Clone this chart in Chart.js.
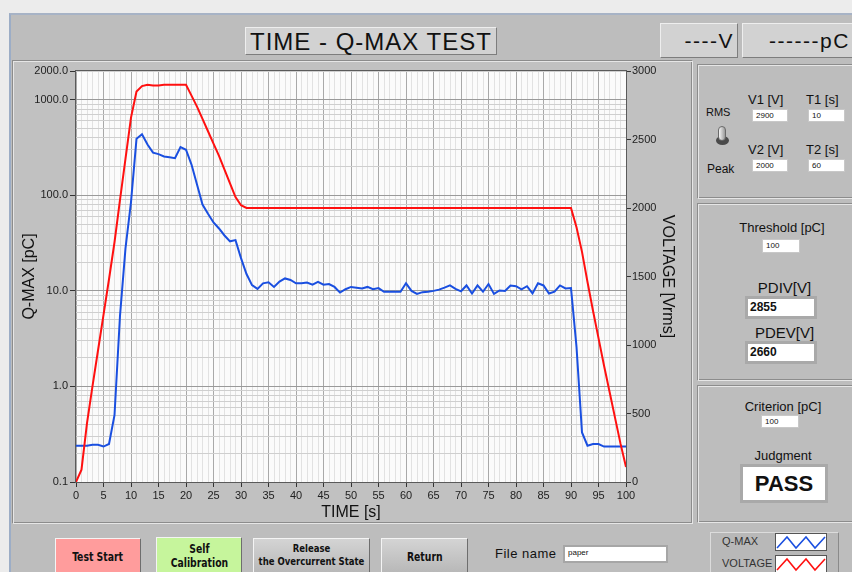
<!DOCTYPE html>
<html>
<head>
<meta charset="utf-8">
<title>TIME - Q-MAX TEST</title>
<script src="https://cdn.jsdelivr.net/npm/chart.js@4.4.0/dist/chart.umd.min.js"></script>
<style>
  html, body { margin: 0; padding: 0; }
  body {
    width: 852px; height: 572px; overflow: hidden; position: relative;
    background: #ececec; font-family: "Liberation Sans", Arial, sans-serif; color: #111;
  }
  .abs { position: absolute; box-sizing: border-box; }
  #panel { left: 9px; top: 13px; width: 843px; height: 559px; background: #bdbdbd;
    border-top: 2px solid #a7b3c6; border-left: 2px solid #9cadc6; }
  .raised { background: #d2d2d2; border: 1px solid; border-color: #eeeeee #7d7d7d #7d7d7d #eeeeee; }
  .frame { border: 1px solid; border-color: #8c8c8c #e6e6e6 #e6e6e6 #8c8c8c;
    box-shadow: inset 1px 1px 0 #e6e6e6, inset -1px -1px 0 #8c8c8c; }
  .lbl { white-space: nowrap; text-align: center; }
  .box { background: #fff; border: 1px solid #c8c8c8; font-size: 8px; line-height: 11px; padding-left: 3px; }
  .bigbox { background: #fff; border: 3px solid #a9a9a9; font-weight: bold; font-size: 12px; line-height: 16px; padding-left: 2px; }
  .btn { border: 1px solid; border-color: #f4f4f4 #6e6e6e #6e6e6e #f4f4f4; text-align: center;
    font-family: "Liberation Sans Narrow", "DejaVu Sans Condensed", "Liberation Sans", sans-serif; font-weight: bold; font-size: 12px;
    display: flex; align-items: flex-start; justify-content: center; line-height: 14px; padding-top: 4px; white-space: nowrap; }
  .btn span { display: inline-block; transform: scaleX(0.86); }
  #chartWrap { left: 15px; top: 62px; width: 675px; height: 460px; }
</style>
</head>
<body>
<div class="abs" id="panel"></div>

<div class="abs raised" style="left:245px;top:27px;width:252px;height:28px;font-size:24px;line-height:27px;padding-left:4px;letter-spacing:1px;">TIME - Q-MAX TEST</div>
<div class="abs raised" style="left:660px;top:23px;width:78px;height:35px;font-size:21px;line-height:33px;text-align:right;padding-right:3px;letter-spacing:1.5px;">----V</div>
<div class="abs raised" style="left:742px;top:23px;width:120px;height:35px;font-size:21px;line-height:33px;padding-left:26px;letter-spacing:1.5px;">------pC</div>

<div class="abs frame" style="left:12px;top:60px;width:681px;height:464px;background:#c1c1c1;"></div>
<div class="abs" id="chartWrap"><canvas id="qmaxChart"></canvas></div>

<div class="abs frame" style="left:697px;top:64px;width:160px;height:135px;"></div>
<div class="abs lbl" style="left:706px;top:106px;font-size:11px;">RMS</div>
<div class="abs" style="left:716px;top:136px;width:13px;height:9px;border-radius:50%;background:#4a4a4a;"></div>
<div class="abs" style="left:718px;top:126px;width:8px;height:15px;border-radius:4px;background:linear-gradient(90deg,#f4f4f4,#9a9a9a);border:1px solid #6a6a6a;"></div>
<div class="abs lbl" style="left:707px;top:162px;font-size:12px;">Peak</div>
<div class="abs lbl" style="left:748px;top:92px;font-size:13px;">V1 [V]</div>
<div class="abs lbl" style="left:806px;top:92px;font-size:13px;">T1 [s]</div>
<div class="abs box" style="left:752px;top:109px;width:36px;height:13px;">2900</div>
<div class="abs box" style="left:808px;top:109px;width:37px;height:13px;">10</div>
<div class="abs lbl" style="left:748px;top:142px;font-size:13px;">V2 [V]</div>
<div class="abs lbl" style="left:806px;top:142px;font-size:13px;">T2 [s]</div>
<div class="abs box" style="left:752px;top:159px;width:36px;height:13px;">2000</div>
<div class="abs box" style="left:808px;top:159px;width:37px;height:13px;">60</div>

<div class="abs frame" style="left:697px;top:203px;width:160px;height:178px;"></div>
<div class="abs lbl" style="left:697px;top:220px;width:170px;font-size:13px;">Threshold [pC]</div>
<div class="abs box" style="left:762px;top:239px;width:38px;height:14px;">100</div>
<div class="abs lbl" style="left:697px;top:279px;width:175px;font-size:15px;">PDIV[V]</div>
<div class="abs bigbox" style="left:745px;top:296px;width:72px;height:23px;">2855</div>
<div class="abs lbl" style="left:697px;top:324px;width:175px;font-size:15px;">PDEV[V]</div>
<div class="abs bigbox" style="left:745px;top:341px;width:72px;height:23px;">2660</div>

<div class="abs frame" style="left:697px;top:385px;width:160px;height:138px;"></div>
<div class="abs lbl" style="left:697px;top:399px;width:172px;font-size:13px;">Criterion [pC]</div>
<div class="abs box" style="left:761px;top:415px;width:38px;height:13px;">100</div>
<div class="abs lbl" style="left:697px;top:448px;width:172px;font-size:13px;">Judgment</div>
<div class="abs bigbox" style="left:740px;top:464px;width:88px;height:39px;font-size:22px;line-height:33px;text-align:center;padding:0;">PASS</div>

<div class="abs" style="left:710px;top:532px;width:129px;height:45px;background:#b8b8b8;border:1px solid;border-color:#dcdcdc #8a8a8a #8a8a8a #dcdcdc;"></div>
<div class="abs" style="left:722px;top:535px;font-size:11px;color:#333;">Q-MAX</div>
<div class="abs" style="left:722px;top:557px;font-size:11px;color:#333;">VOLTAGE</div>
<svg class="abs" style="left:775px;top:533px;" width="52" height="18">
  <rect x="0.5" y="0.5" width="51" height="17" fill="#fff" stroke="#555"/>
  <polyline points="2,15 12,4 21,15 31,4 40,15 50,4" fill="none" stroke="#1a4fe0" stroke-width="1.6"/>
</svg>
<svg class="abs" style="left:775px;top:555px;" width="52" height="18">
  <rect x="0.5" y="0.5" width="51" height="17" fill="#fff" stroke="#555"/>
  <polyline points="2,15 12,4 21,15 31,4 40,15 50,4" fill="none" stroke="#ff1010" stroke-width="1.6"/>
</svg>

<div class="abs btn" style="left:55px;top:538px;width:86px;height:40px;background:#ff9c9c;padding-top:11px;"><span>Test Start</span></div>
<div class="abs btn" style="left:156px;top:537px;width:86px;height:40px;background:#c6f59c;"><span>Self<br>Calibration</span></div>
<div class="abs btn" style="left:253px;top:538px;width:117px;height:40px;background:linear-gradient(#d4d4d4,#b4b4b4);padding-top:3px;"><span style="font-size:11px;line-height:13px;">Release<br>the Overcurrent State</span></div>
<div class="abs btn" style="left:381px;top:538px;width:87px;height:40px;background:linear-gradient(#d4d4d4,#b4b4b4);padding-top:11px;"><span>Return</span></div>
<div class="abs" style="left:495px;top:546px;font-size:13px;letter-spacing:0.5px;">File name</div>
<div class="abs" style="left:563px;top:545px;width:105px;height:18px;background:#fff;border:2px solid #a6a6a6;font-size:8px;line-height:12px;padding-left:3px;">paper</div>

<script>
"use strict";

// time axis, one sample per second
const TIME_S = Array.from({ length: 101 }, (_, i) => i);

// Q-MAX [pC] (log axis)
const QMAX_PC = [
  0.24, 0.24, 0.24, 0.245, 0.245, 0.235, 0.25, 0.5, 5.5, 28,
  85, 390, 435, 340, 280, 270, 255, 250, 245, 320,
  300, 210, 130, 80, 64, 52, 45, 38, 33, 34,
  22, 15, 11.5, 10.5, 12, 12.3, 11, 12.5, 13.5, 13,
  12, 12, 12.2, 11.6, 12.4, 11.6, 11.8, 11, 9.6, 10.4,
  11, 10.8, 10.6, 11, 10.4, 10.7, 9.8, 9.8, 9.8, 9.8,
  12, 10, 9.3, 9.7, 9.8, 10, 10.3, 10.8, 11.4, 10.5,
  9.9, 11.4, 9.4, 11.4, 9.8, 11.8, 9.3, 10.1, 10, 11.4,
  11.2, 10.4, 11.2, 9.4, 12, 11.4, 9.4, 9.8, 11.4, 10.6,
  10.7, 2.6, 0.33, 0.24, 0.25, 0.25, 0.235, 0.235, 0.235, 0.235,
  0.235
];

// applied voltage [Vrms] (right axis)
const VOLTAGE_V = [
  0, 90, 430, 700, 960, 1220, 1480, 1750, 2060, 2360,
  2660, 2850, 2890, 2900, 2895, 2895, 2900, 2900, 2900, 2900,
  2900, 2820, 2740, 2650, 2560, 2470, 2380, 2280, 2180, 2080,
  2020, 2000, 2000, 2000, 2000, 2000, 2000, 2000, 2000, 2000,
  2000, 2000, 2000, 2000, 2000, 2000, 2000, 2000, 2000, 2000,
  2000, 2000, 2000, 2000, 2000, 2000, 2000, 2000, 2000, 2000,
  2000, 2000, 2000, 2000, 2000, 2000, 2000, 2000, 2000, 2000,
  2000, 2000, 2000, 2000, 2000, 2000, 2000, 2000, 2000, 2000,
  2000, 2000, 2000, 2000, 2000, 2000, 2000, 2000, 2000, 2000,
  2000, 1860, 1680, 1460, 1250, 1050, 850, 660, 470, 280,
  110
];

// labelled ticks
const QMAX_LABELS = [0.1, 1, 10, 100, 1000, 2000];
const VOLT_TICKS = [0, 500, 1000, 1500, 2000, 2500, 3000];
const TIME_LABEL_STEP = 5;

// grid positions for the log axis: 1..9 per decade, up to 2000
const QMAX_GRID = [];
[0.1, 1, 10, 100, 1000].forEach(d => {
  for (let m = 1; m <= 9; m++) {
    const v = +(d * m).toPrecision(6);
    if (v <= 2000) QMAX_GRID.push(v);
  }
});

const TICK_FONT = { family: "Liberation Sans, Arial, sans-serif", size: 11 };
const TITLE_FONT = { family: "Liberation Sans, Arial, sans-serif", size: 16 };

function isLabelled(v) {
  return QMAX_LABELS.some(l => Math.abs(l - v) < l * 1e-6);
}
function isDecade(v) {
  const e = Math.log10(v);
  return Math.abs(e - Math.round(e)) < 1e-6;
}

const plotFrame = {
  id: 'plotFrame',
  beforeDraw(chart) {
    const { ctx, chartArea: a } = chart;
    ctx.save();
    ctx.fillStyle = '#fbfbfb';
    ctx.fillRect(a.left, a.top, a.width, a.height);
    ctx.restore();
  },
  afterDraw(chart) {
    const { ctx, chartArea: a } = chart;
    ctx.save();
    ctx.strokeStyle = '#5a5a5a';
    ctx.lineWidth = 1;
    ctx.strokeRect(Math.round(a.left) - 0.5, Math.round(a.top) - 0.5, Math.round(a.width) + 1, Math.round(a.height) + 1);
    ctx.restore();
  }
};

new Chart(document.getElementById('qmaxChart'), {
  type: 'line',
  data: {
    datasets: [
      {
        label: 'VOLTAGE',
        data: TIME_S.map((t, i) => ({ x: t, y: VOLTAGE_V[i] })),
        yAxisID: 'y2',
        borderColor: '#ff1010',
        borderWidth: 2,
        pointRadius: 0,
        tension: 0,
        order: 0
      },
      {
        label: 'Q-MAX',
        data: TIME_S.map((t, i) => ({ x: t, y: QMAX_PC[i] })),
        yAxisID: 'y',
        borderColor: '#1a4fe0',
        borderWidth: 2,
        pointRadius: 0,
        tension: 0,
        order: 1
      }
    ]
  },
  options: {
    responsive: true,
    maintainAspectRatio: false,
    animation: false,
    layout: { padding: { top: 9, left: 0, right: 0, bottom: 0 } },
    plugins: {
      legend: { display: false },
      tooltip: { enabled: false }
    },
    scales: {
      x: {
        type: 'linear',
        min: 0,
        max: 100,
        afterBuildTicks(scale) { scale.ticks = TIME_S.map(v => ({ value: v })); },
        afterFit(scale) { scale.height = 40; },
        border: { display: false },
        grid: {
          color: c => (c.tick && c.tick.value % TIME_LABEL_STEP === 0) ? '#a9a9a9' : '#e2e2e2',
          tickColor: c => (c.tick && c.tick.value % TIME_LABEL_STEP === 0) ? '#333' : 'rgba(0,0,0,0)',
          tickLength: 5,
          lineWidth: 1
        },
        ticks: {
          autoSkip: false,
          maxRotation: 0,
          minRotation: 0,
          padding: 2,
          color: '#222',
          font: TICK_FONT,
          callback: v => (v % TIME_LABEL_STEP === 0 ? String(v) : '')
        },
        title: { display: true, text: 'TIME [s]', color: '#111', font: TITLE_FONT, padding: { top: 0, bottom: 0 } }
      },
      y: {
        type: 'logarithmic',
        position: 'left',
        min: 0.1,
        max: 2000,
        afterBuildTicks(scale) { scale.ticks = QMAX_GRID.map(v => ({ value: v })); },
        afterFit(scale) { scale.width = 61; },
        border: { display: false },
        grid: {
          color: c => (c.tick && isDecade(c.tick.value)) ? '#9a9a9a' : '#cfcfcf',
          tickColor: c => (c.tick && isLabelled(c.tick.value)) ? '#333' : 'rgba(0,0,0,0)',
          tickLength: 6,
          lineWidth: 1
        },
        ticks: {
          autoSkip: false,
          padding: 2,
          color: '#222',
          font: TICK_FONT,
          callback: v => (isLabelled(v) ? Number(v).toFixed(1) : '')
        },
        title: { display: true, text: 'Q-MAX [pC]', color: '#111', font: TITLE_FONT, padding: { top: 5, bottom: 0 } }
      },
      y2: {
        type: 'linear',
        position: 'right',
        min: 0,
        max: 3000,
        afterBuildTicks(scale) { scale.ticks = VOLT_TICKS.map(v => ({ value: v })); },
        afterFit(scale) { scale.width = 64; },
        border: { display: false },
        grid: { drawOnChartArea: false, tickColor: '#333', tickLength: 5 },
        ticks: { autoSkip: false, padding: 1, color: '#222', font: TICK_FONT, callback: v => String(v) },
        title: { display: true, text: 'VOLTAGE [Vrms]', color: '#111', font: TITLE_FONT, padding: { top: 13, bottom: 0 } }
      }
    }
  },
  plugins: [plotFrame]
});
</script>
</body>
</html>
